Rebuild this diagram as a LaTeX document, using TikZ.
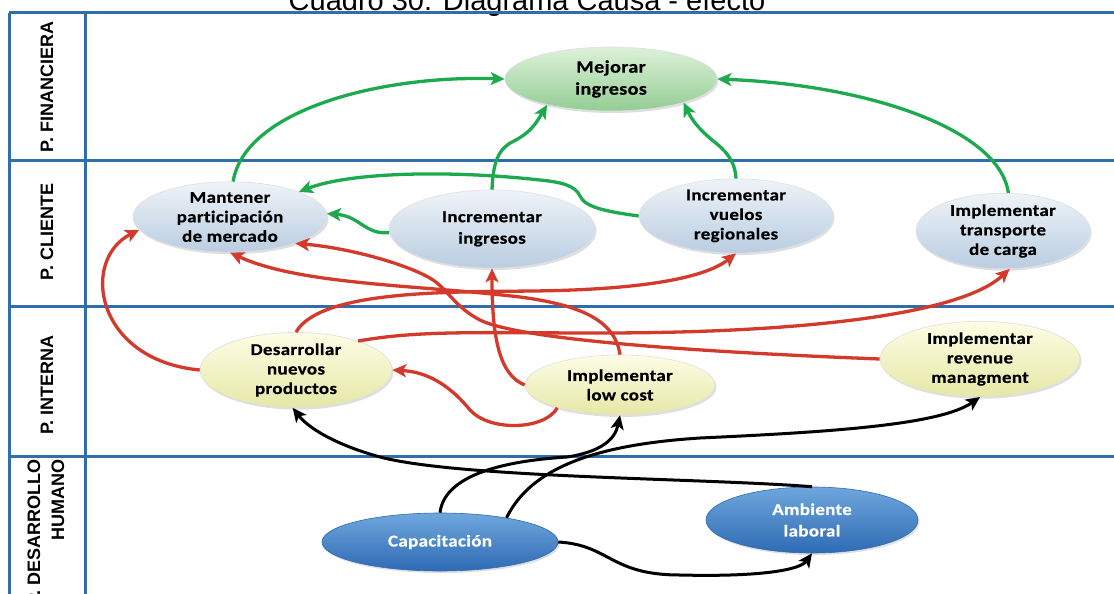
\documentclass[tikz,border=0pt]{standalone}
\usepackage{fontspec}
\setmainfont{Carlito}[FakeStretch=1.15, LetterSpace=2, FakeBold=0.5, Ligatures=NoCommon]
\newfontfamily\labfont{Liberation Sans}
\usetikzlibrary{arrows.meta,shapes.geometric,shadows}

\definecolor{frameblue}{HTML}{2F6EA8}
\definecolor{lgreen}{HTML}{1DAA4E}
\definecolor{lred}{HTML}{D33A2C}
\definecolor{fintop}{HTML}{DDF1D8}
\definecolor{finbot}{HTML}{93CD95}
\definecolor{clitop}{HTML}{EEF3F8}
\definecolor{clibot}{HTML}{BACDE1}
\definecolor{inttop}{HTML}{FDFDE6}
\definecolor{intbot}{HTML}{E5E8A6}
\definecolor{humtop}{HTML}{6FA6DD}
\definecolor{humbot}{HTML}{2E6BB3}

\tikzset{
  frame/.style={draw=frameblue, line width=3pt},
  lanelabel/.style={rotate=90, font=\labfont\bfseries\fontsize{18}{24}\selectfont},
  oval/.style={ellipse, inner sep=0pt, align=center,
    font=\bfseries\fontsize{16.5}{19.5}\selectfont,
    draw=white!75!gray, line width=0.6pt,
    drop shadow={opacity=0.25, shadow xshift=1.5pt, shadow yshift=-2pt}},
  finoval/.style={oval, top color=fintop, bottom color=finbot},
  clioval/.style={oval, top color=clitop, bottom color=clibot},
  intoval/.style={oval, top color=inttop, bottom color=intbot},
  humoval/.style={oval, top color=humtop, bottom color=humbot, text=white, draw=humbot},
  tip/.style={-{Stealth[length=14pt,width=13pt,inset=3.5pt]}},
  garrow/.style={tip, draw=lgreen, line width=3.3pt},
  rarrow/.style={tip, draw=lred, line width=3.3pt},
  karrow/.style={tip, draw=black, line width=3pt},
}

\begin{document}
\begin{tikzpicture}[x=1pt, y=-1pt]
\useasboundingbox (0,0) rectangle (1114,594);
\clip (0,0) rectangle (1114,594);
\fill[white] (0,0) rectangle (1114,594);

% title
\node[anchor=base, font=\labfont\fontsize{29}{30}\selectfont, inner sep=0pt] (title) at (527,11) {Cuadro 30: Diagrama Causa - efecto};

% lanes
\draw[frame] (9,13) -- (1114,13);
\draw[frame] (9,160) -- (1114,160);
\draw[frame] (9,306) -- (1114,306);
\draw[frame] (9,456) -- (1114,456);
\draw[frame] (9,13) -- (9,594);
\draw[frame] (85,13) -- (85,594);

\node[lanelabel] (lfin) at (47,87) {P. FINANCIERA};
\node[lanelabel] (lcli) at (47,232) {P. CLIENTE};
\node[lanelabel] (lint) at (47,385) {P. INTERNA};
\node[lanelabel, anchor=east, align=right] (lhum) at (46,456) {P. DESARROLLO\\HUMANO};

% objectives
\node[finoval, minimum width=212pt, minimum height=64pt, font=\bfseries\fontsize{17.5}{22}\selectfont] (mej) at (611,79) {Mejorar\\ingresos};
\node[clioval, minimum width=194pt, minimum height=68pt] (man) at (230,217) {Mantener\\participación\\de mercado};
\node[clioval, minimum width=206pt, minimum height=78pt] (inc) at (492,229) {Incrementar\\[2pt]ingresos};
\node[clioval, minimum width=194pt, minimum height=72pt] (vue) at (736,216) {Incrementar\\vuelos\\regionales};
\node[clioval, minimum width=174pt, minimum height=72pt] (tra) at (1003,231) {Implementar\\transporte\\de carga};
\node[intoval, minimum width=192pt, minimum height=70pt] (des) at (296,370) {Desarrollar\\nuevos\\productos};
\node[intoval, minimum width=190pt, minimum height=60pt] (low) at (620,385) {Implementar\\low cost};
\node[intoval, minimum width=200pt, minimum height=66pt] (rev) at (980,359) {Implementar\\revenue\\managment};
\node[humoval, minimum width=236pt, minimum height=58pt] (cap) at (440,542) {Capacitación};
\node[humoval, minimum width=212pt, minimum height=66pt] (amb) at (812,520) {Ambiente\\[2pt]laboral};

% customer -> financial
\draw[garrow] (man.85) .. controls (245,110) and (380,75) .. (mej.west);
\draw[garrow] (inc.north) .. controls (493,165) and (497,150) .. (512,142) .. controls (530,133) and (535,125) .. (mej.202);
\draw[garrow] (vue.north) .. controls (735,160) and (725,150) .. (712,140) .. controls (698,128) and (692,120) .. (mej.-18);
\draw[garrow] (tra.82) .. controls (1000,130) and (870,85) .. (mej.east);
\draw[garrow] (vue.west) .. controls (610,212) and (585,208) .. (580,196) .. controls (575,185) and (560,182) .. (540,180) .. controls (450,170) and (350,172) .. (man.20);
\draw[garrow] (inc.182) .. controls (365,235) and (360,216) .. (man.2);

% internal -> customer
\draw[rarrow] (des.west) .. controls (95,360) and (80,260) .. (man.188);
\draw[rarrow] (des.north) .. controls (320,290) and (450,292) .. (533,291) .. controls (620,290) and (700,282) .. (vue.south);
\draw[rarrow] (des.25) .. controls (420,330) and (480,333) .. (600,333) .. controls (800,333) and (960,315) .. (tra.-80);
\draw[rarrow] (rev.west) .. controls (700,352) and (520,340) .. (480,320) .. controls (455,307) and (448,290) .. (433,280) .. controls (410,265) and (350,248) .. (man.-22);
\draw[rarrow] (low.north) .. controls (615,320) and (580,305) .. (520,297) .. controls (420,285) and (300,285) .. (man.south);
\draw[rarrow] (low.west) .. controls (500,375) and (492,340) .. (inc.south);
\draw[rarrow] (low.200) .. controls (545,430) and (490,432) .. (470,410) .. controls (452,388) and (430,372) .. (des.east);

% human development -> internal
\draw[karrow] (amb.north) .. controls (700,478) and (460,478) .. (380,457) .. controls (340,446) and (310,430) .. (des.-95);
\draw[karrow] (cap.north) .. controls (445,470) and (520,460) .. (567,457) .. controls (600,452) and (615,440) .. (low.south);
\draw[karrow] (cap.20) .. controls (530,470) and (590,445) .. (700,438) .. controls (830,432) and (940,425) .. (rev.south);
\draw[karrow] (cap.east) .. controls (610,545) and (610,575) .. (680,575) .. controls (760,577) and (800,570) .. (amb.south);
\end{tikzpicture}
\end{document}
